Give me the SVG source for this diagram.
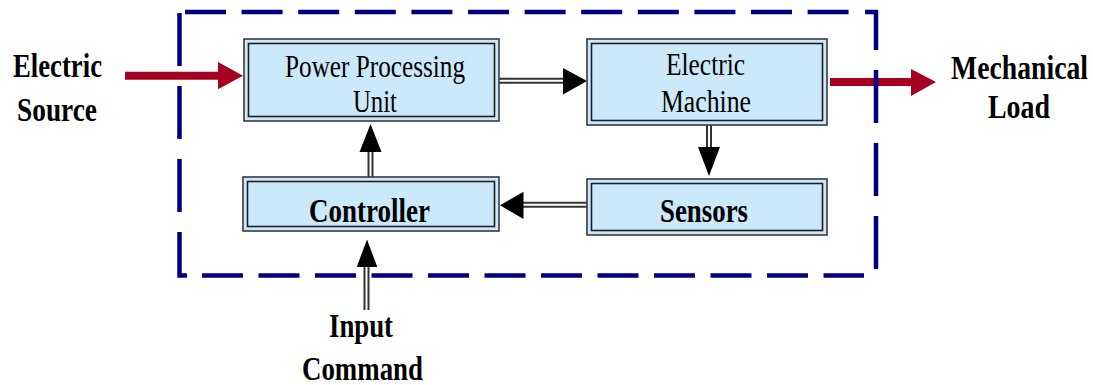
<svg xmlns="http://www.w3.org/2000/svg" width="1093" height="385" viewBox="0 0 1093 385">
<style>
.box{fill:#cce9fb;stroke:#3a3a3a;stroke-width:1.6}
.inner{fill:none;stroke:#1e1e1e;stroke-width:1.6}
.lbl{font-family:'Liberation Serif','DejaVu Serif','Times New Roman',serif;font-weight:bold;font-size:33px;fill:#000}
.txt{font-family:'Liberation Serif','DejaVu Serif','Times New Roman',serif;font-size:32px;fill:#000}
.red{stroke:#a50021;stroke-width:8;fill:none}
.redhead{fill:#a50021}
.sh-out{stroke:#333;stroke-width:6;fill:none}
.sh-in{stroke:#fff;stroke-width:2;fill:none}
.head{fill:#000}
.frame{fill:none;stroke:#000080;stroke-width:4.5;stroke-linecap:butt}
</style>
<rect width="1093" height="385" fill="#fff"/>

<g id="connectors">
  <path class="red" d="M125 75.7 H220"/>
  <polygon class="redhead" points="218,62 243,75.7 218,89.3"/>
  <path class="red" d="M830 82 H913"/>
  <polygon class="redhead" points="911,69 936,82 911,96"/>
  <path class="sh-out" d="M499 80.7 H565"/><path class="sh-in" d="M499 80.7 H565"/>
  <polygon class="head" points="563,68 587,81 563,94.5"/>
  <path class="sh-out" d="M370.5 177 V150"/><path class="sh-in" d="M370.5 177 V150"/>
  <polygon class="head" points="359.5,152 381.5,152 370.5,124"/>
  <path class="sh-out" d="M709 125 V149"/><path class="sh-in" d="M709 125 V149"/>
  <polygon class="head" points="698,147 720,147 709,176"/>
  <path class="sh-out" d="M587 204.7 H521"/><path class="sh-in" d="M587 204.7 H521"/>
  <polygon class="head" points="523.5,191.7 500,205.3 523.5,219"/>
  <path class="sh-out" d="M366.5 310 V265"/><path class="sh-in" d="M366.5 310 V265"/>
  <polygon class="head" points="356.7,267 377.3,267 367,239.5"/>
</g>

<g id="system-boundary">
  <path class="frame" d="M185 12 H849" stroke-dasharray="41 15.6"/>
  <path class="frame" d="M865 12 H876 V50"/>
  <path class="frame" d="M876 70 V269" stroke-dasharray="53 20"/>
  <path class="frame" d="M202 275.5 H864" stroke-dasharray="41 15.5"/>
  <path class="frame" d="M179.5 232 V275.5 H187"/>
  <path class="frame" d="M179.5 13 V212" stroke-dasharray="53 20"/>
</g>

<g id="electric-source">
  <text class="lbl" x="13" y="77" textLength="89" lengthAdjust="spacingAndGlyphs">Electric</text>
  <text class="lbl" x="17" y="121" textLength="80" lengthAdjust="spacingAndGlyphs">Source</text>
</g>

<g id="mechanical-load">
  <text class="lbl" transform="translate(951,79) scale(0.84,1)" x="0" y="0">Mechanical</text>
  <text class="lbl" x="988" y="118" textLength="62" lengthAdjust="spacingAndGlyphs">Load</text>
</g>

<g id="power-processing-unit">
  <rect class="box" x="244" y="39" width="255" height="82"/>
  <rect class="inner" x="248.5" y="43.5" width="246" height="73"/>
  <text class="txt" x="285" y="77" textLength="180" lengthAdjust="spacingAndGlyphs">Power Processing</text>
  <text class="txt" x="353" y="112" textLength="44" lengthAdjust="spacingAndGlyphs">Unit</text>
</g>

<g id="electric-machine">
  <rect class="box" x="587" y="39" width="240" height="86"/>
  <rect class="inner" x="591.5" y="43.5" width="231" height="77"/>
  <text class="txt" x="666" y="75" textLength="79" lengthAdjust="spacingAndGlyphs">Electric</text>
  <text class="txt" x="661" y="112" textLength="90" lengthAdjust="spacingAndGlyphs">Machine</text>
</g>

<g id="controller">
  <rect class="box" x="243" y="177" width="256" height="54"/>
  <rect class="inner" x="247.5" y="181.5" width="247" height="45"/>
  <text class="lbl" x="309" y="222" textLength="121" lengthAdjust="spacingAndGlyphs">Controller</text>
</g>

<g id="sensors">
  <rect class="box" x="587" y="179" width="240" height="56"/>
  <rect class="inner" x="591.5" y="183.5" width="231" height="47"/>
  <text class="lbl" x="660" y="222" textLength="88" lengthAdjust="spacingAndGlyphs">Sensors</text>
</g>

<g id="input-command">
  <text class="lbl" x="329" y="337" textLength="64" lengthAdjust="spacingAndGlyphs">Input</text>
  <text class="lbl" x="302" y="380" textLength="121" lengthAdjust="spacingAndGlyphs">Command</text>
</g>
</svg>
